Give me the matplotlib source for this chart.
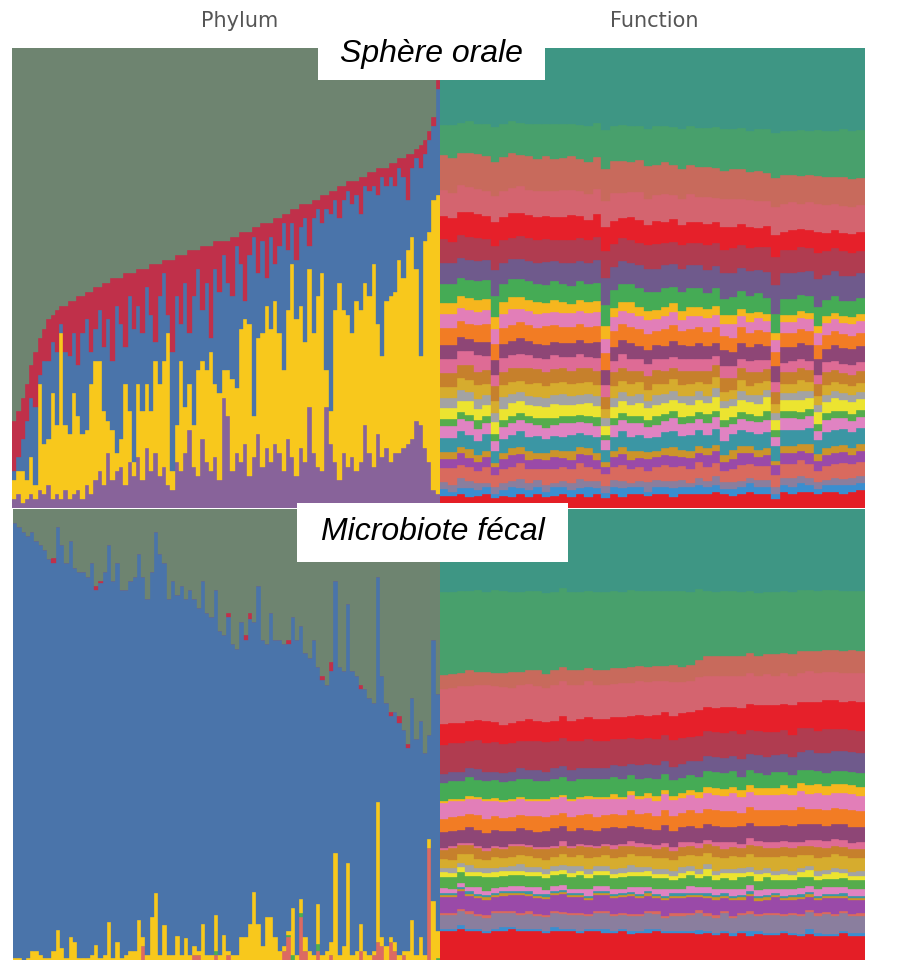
import numpy as np
import matplotlib
matplotlib.use("Agg")
import matplotlib.pyplot as plt
from matplotlib.patches import Rectangle

# ---------------- Phylum, oral samples (percent, 100 samples) ----------------
oral_purple = [2,3,1,2,3,2,4,3,5,2, 3,2,4,2,3,4,2,5,3,6, 8,5,12,6,8,9,5,10,7,11,
               6,13,8,12,7,9,5,4,10,8, 12,17,9,7,15,10,8,11,6,24, 20,8,12,10,14,7,11,16,9,13,
               10,14,12,8,15,11,7,13,10,22, 12,9,8,22,14,10,6,12,9,11, 8,10,18,12,9,16,11,13,10,12,
               12,13,14,15,19,18,13,10,4,3]
oral_yellow = [4,5,7,4,8,3,23,11,10,23, 15,36,14,14,22,16,14,12,24,26, 24,16,7,11,4,6,22,11,3,16,
               15,14,13,20,20,23,33,4,8,24, 10,10,9,23,17,20,26,16,19,6, 10,20,14,29,27,33,9,21,29,31,
               29,31,26,22,28,42,34,31,26,30, 26,37,43,8,7,33,43,31,33,27, 37,33,31,34,44,24,22,32,36,35,
               42,37,42,44,33,15,45,50,63,65]
oral_blue = [2,3,7,13,13,17,2,18,17,11, 16,2,16,17,13,11,22,24,7,7, 11,14,22,15,32,25,8,25,29,17,
             17,21,21,4,19,19,4,26,28,8, 27,11,28,22,11,19,3,25,22,25, 19,18,31,14,4,15,39,14,20,6,
             20,8,19,32,13,9,13,17,27,5, 25,19,11,35,43,24,14,24,27,28, 23,21,21,23,17,28,39,25,26,23,
             20,22,11,15,24,41,19,20,16,23]
oral_red = [11,10,9,8,7,12,8,7,9,6, 9,4,10,12,7,15,8,6,13,9, 5,14,8,18,6,10,16,5,12,8,
            14,4,11,17,7,3,12,20,9,15, 6,18,10,4,14,8,20,6,11,3, 9,13,2,7,15,5,2,10,4,12,
            3,10,6,2,8,3,11,5,3,9, 4,2,6,3,5,2,7,3,2,5, 3,8,2,4,3,6,2,4,3,5,
            2,4,10,3,2,5,3,2,2,2]
oral_gray = [81,79,76,73,69,66,63,61,59,58, 57,56,56,55,55,54,54,53,53,52, 52,51,51,50,50,50,49,49,49,48,
             48,48,47,47,47,46,46,46,45,45, 45,44,44,44,43,43,43,42,42,42, 42,41,41,40,40,40,39,39,38,38,
             38,37,37,36,36,35,35,34,34,34, 33,33,32,32,31,31,30,30,29,29, 29,28,28,27,27,26,26,26,25,25,
             24,24,23,23,22,21,20,18,15,7]

# ---------------- Phylum, fecal samples (percent, 100 samples) ----------------
fecal_salmon = [0,0,0,0,0,0,0,0,0,0, 0,0,0,0,0,0,0,0,0,0, 0,0,0,0,0,0,0,0,0,0,
                3,0,0,0,0,0,0,0,0,0, 0,0,1,1,0,0,0,1,0,0, 1,0,0,0,0,0,0,0,0,0,
                0,0,0,2,5,0,0,9.5,2,0, 0,2,0,0,1,0,0,0,0,0, 0,2,0,0,1,4,3,0,4,2,
                0,1,0,0,0,0,0,24.8,0,0]
fecal_green = [0,0,0,0,0,0,0,0,0,0, 0,0,0,0,0,0,0,0,0,0, 0,0,0,0,0,0,0,0,0,0,
               0,0,0,0,0,0,0,0,0,0, 0,0,0,0,0,0,0,1,0,0, 0,0,0,0,0,0,0,0,0,0,
               0,0,0,0,0.5,1,0,1,0,0, 0,1.5,0,0,0,0,0,0,0,0, 0,0,0,0,0,0,0,0,0,0,
               0,0,0,0,0,0,0,0,0,0.5]
fecal_yellow = [0.5,0.5,0,0.5,2,2,1,0.5,0.5,2, 6.6,2.6,0.5,5,4,0.5,0.5,0.5,1,3.3,
                0.5,1,8.4,0.5,4,0.5,1,2,2,8.8, 2,1,9.5,14.8,1,7.7,1,1,5.3,1,
                4.9,1,2,1,8,1,1,8,1,5.5, 1,1,1,5,5,8,15,8,3,9.5,
                9.5,5,2,1,1,10.6,1,3,3,2, 1,9,1,2,3,23.7,1,3,21.5,1,
                2,6,2,1,1,31,2,3,1,2, 1,1,2,8.8,1,5,1,2,13,6]
fecal_blue = [96.5,95.5,95,93.5,93,91,91,90.5,88.5,87, 89.4,89.4,87.5,88,83,85.5,85.5,84.5,87,78.7,
              83,85,83.6,83.5,84,81.5,81,82,83,81.2, 80,79,76.5,80.2,89,80.3,79,83,75.7,82,
              75.1,81,77,76,76,76,75,72,72,66.5, 74,69,68,70,66,67.5,60,75,68,60.5,
              67.5,66,69,67,63.5,64.4,70,60.5,63,65, 70,52.5,61,59,60,60.3,64,61,57.5,63,
              61,52,58,57,55,50,58,54,49,51, 51.5,49,45,49.2,48,48,45,23.2,58,52.5]
fecal_red = [0,0,0,0,0,0,0,0,0,1, 0,0,0,0,0,0,0,0,0,1, 0.5,0,0,0,0,0,0,0,0,0,
             0,0,0,0,0,0,0,0,0,0, 0,0,0,0,0,0,0,0,0,0, 1,0,0,0,1,1.5,0,0,0,0,
             0,0,0,0,1,0,0,0,0,0, 0,0,1,0,2,0,0,0,0,0, 0,1,0,0,0,0,0,0,1,0,
             1.5,0,1,0,0,0,0,0,0,0]
fecal_gray = [3,4,5,6,5,7,8,9,11,11, 4,8,12,7,13,14,14,15,12,17, 16,14,8,16,12,18,18,16,15,10,
              15,20,14,5,10,12,20,16,19,17, 20,18,20,22,16,23,24,18,27,28, 23,30,31,25,28,23,25,17,29,30,
              23,29,29,30,29,24,29,26,32,33, 29,35,37,39,34,16,35,36,21,36, 37,39,40,42,43,15,37,43,45,45,
              46,49,52,42,51,47,54,50,29,41]

# ---------------- Function, oral samples (units of 0.5 %, 50 samples, bottom -> top) ----------------
oral_fn_01 = [5,5,6,5,5,6,4,5,5,6, 5,6,5,5,6,5,6,5,6,4, 6,5,6,6,5,6,6,5,6,6, 6,6,7,6,5,6,7,6,6,4, 7,6,7,7,6,7,7,6,7,8]
oral_fn_02 = [3,2,3,4,3,3,2,3,4,3, 3,3,2,4,3,3,3,4,3,2, 3,4,3,3,2,3,3,4,3,3, 4,3,3,2,3,3,4,3,3,2, 3,3,4,3,2,3,3,4,3,3]
oral_fn_03 = [3,3,4,3,3,2,3,3,3,4, 3,3,3,2,3,3,4,3,3,3, 3,3,2,3,4,3,3,3,3,2, 3,3,4,3,3,3,2,3,3,3, 3,4,3,3,3,2,3,3,3,3]
oral_fn_04 = [6,7,6,6,5,7,5,6,6,7, 6,5,7,6,6,6,7,6,5,5, 6,7,6,6,5,6,7,6,6,6, 7,6,6,5,6,7,6,6,6,5, 6,6,7,6,5,6,6,7,6,6]
oral_fn_05 = [4,4,5,4,4,4,3,4,5,4, 4,4,4,5,4,4,4,5,4,3, 4,5,4,4,5,4,4,5,4,5, 4,5,5,4,4,5,5,4,5,4, 5,5,4,5,4,5,5,5,4,5]
oral_fn_06 = [3,3,3,4,3,3,2,3,3,3, 4,3,3,3,3,4,3,3,3,2, 3,3,4,3,3,3,3,4,3,3, 3,3,3,3,4,3,3,3,3,2, 3,3,3,4,3,3,3,3,3,3]
oral_fn_07 = [6,6,7,6,6,7,5,6,6,7, 6,7,6,6,6,7,6,6,7,5, 6,7,6,7,6,6,7,7,6,7, 7,6,7,6,7,7,6,7,7,6, 7,7,6,7,6,7,7,7,7,7]
oral_fn_08 = [5,5,5,6,5,5,4,5,5,5, 6,5,5,5,6,5,5,5,5,4, 5,5,6,5,5,5,5,6,5,5, 5,5,5,6,4,5,5,5,5,4, 5,5,5,5,4,5,5,5,5,5]
oral_fn_09 = [3,3,3,3,4,3,3,3,3,3, 3,3,4,3,3,3,3,3,4,2, 3,3,3,3,3,4,3,3,3,3, 3,4,3,3,3,3,3,3,4,3, 3,3,3,3,3,3,3,3,3,3]
oral_fn_10 = [5,5,5,6,5,5,5,5,6,5, 5,5,5,6,5,5,5,6,5,4, 5,5,5,6,5,5,5,5,6,5, 5,5,6,5,5,5,5,5,6,4, 5,5,5,5,5,5,6,5,5,5]
oral_fn_11 = [4,4,5,4,4,4,4,5,4,4, 4,4,4,4,5,4,4,4,4,3, 4,4,4,4,3,4,4,4,3,4, 4,3,4,3,3,4,3,4,3,3, 3,3,4,3,3,3,3,3,3,3]
oral_fn_12 = [5,5,5,5,6,5,5,5,5,5, 5,6,5,5,5,5,5,5,5,4, 5,5,5,5,5,5,4,5,5,5, 4,5,5,4,4,5,4,5,4,4, 4,4,5,4,4,4,4,4,4,4]
oral_fn_13 = [6,6,6,7,6,6,6,6,6,6, 7,6,6,6,6,6,7,6,6,5, 6,6,6,5,6,6,6,5,6,6, 5,6,5,6,5,5,6,5,5,5, 5,5,5,5,5,6,5,5,5,5]
oral_fn_14 = [6,6,6,6,7,6,5,6,6,6, 6,5,6,6,5,6,6,5,6,5, 5,6,5,5,5,5,5,5,5,5, 5,5,4,5,5,4,5,5,4,4, 4,5,4,4,4,4,4,4,4,4]
oral_fn_15 = [6,6,6,5,6,6,6,6,6,7, 6,6,6,6,6,6,6,6,7,6, 6,6,7,6,6,6,6,7,6,6, 7,6,6,7,6,7,6,7,6,7, 7,6,7,7,7,6,7,7,7,7]
oral_fn_16 = [7,7,7,7,7,8,7,7,7,7, 7,7,8,7,7,7,7,7,7,7, 7,7,7,7,7,6,7,7,6,7, 7,6,7,6,6,7,6,6,6,6, 6,6,6,6,6,6,6,6,6,6]
oral_fn_17 = [6,6,6,6,6,6,6,6,7,6, 6,6,6,6,6,6,6,6,6,6, 6,6,6,6,6,5,6,6,5,6, 5,6,5,5,6,5,5,5,5,5, 5,5,5,5,5,5,5,5,5,5]
oral_fn_18 = [5,5,5,5,5,5,5,5,5,5, 5,5,4,5,5,4,5,5,5,5, 4,4,5,4,4,4,4,4,4,4, 4,4,4,4,4,3,4,3,3,3, 3,3,3,3,3,3,3,3,3,3]
oral_fn_19 = [8,8,8,8,8,8,9,8,8,8, 8,8,8,8,8,8,8,8,8,9, 8,8,8,8,8,8,8,7,8,8, 8,7,8,7,8,8,7,8,7,8, 7,7,7,7,8,7,7,7,7,7]
oral_fn_20 = [9,9,9,9,9,9,11,9,9,9, 9,9,10,9,9,10,9,9,10,11, 10,10,9,10,10,10,10,10,10,10, 10,10,10,11,10,10,11,10,11,12, 11,11,10,11,12,11,11,11,11,11]
oral_fn_21 = [10,9,10,10,10,9,10,10,9,10, 10,10,10,9,10,10,10,10,10,11, 10,10,10,10,10,11,10,10,10,10, 10,11,10,10,11,10,10,10,11,12, 10,10,11,10,11,10,10,11,10,10]
oral_fn_22 = [10,10,10,11,10,10,10,10,11,10, 10,10,10,10,10,11,10,9,10,10, 10,9,10,10,9,10,9,10,9,9, 9,9,9,10,9,9,9,8,9,9, 8,9,8,8,9,8,8,8,8,8]
oral_fn_23 = [11,11,12,11,11,11,11,11,11,12, 11,11,11,11,12,11,11,11,11,11, 12,11,11,12,11,11,12,11,11,12, 11,12,11,12,12,11,12,12,11,12, 12,12,11,12,12,12,11,12,12,12]
oral_fn_24 = [15,15,14,15,15,15,14,15,15,14, 15,14,15,14,14,15,14,14,14,13, 14,14,13,14,14,13,14,13,13,13, 13,13,13,12,13,13,12,13,12,12, 13,12,12,12,12,12,12,13,12,12]
oral_fn_25 = [13,14,13,14,13,14,15,14,14,14, 14,15,14,15,15,14,15,16,15,16, 15,16,16,15,16,17,16,17,17,17, 17,17,18,18,17,18,18,18,19,19, 19,19,20,19,20,20,20,21,21,21]
oral_fn_26 = [33,33,33,32,33,33,33,33,32,33, 33,33,33,33,33,33,34,34,33,34, 34,34,34,34,35,34,34,35,35,34, 35,35,35,35,35,35,36,35,35,36, 36,36,36,36,35,36,36,36,36,36]

# ---------------- Function, fecal samples (units of 0.5 %, 50 samples, bottom -> top) ----------------
fecal_fn_01 = [13,13,14,13,13,12,13,13,14,13, 13,13,12,13,13,13,12,13,13,12, 12,13,12,12,12,13,12,12,12,12, 12,12,11,12,11,12,11,12,11,11, 12,11,11,12,11,11,11,12,11,11]
fecal_fn_02 = [1,1,2,1,1,1,1,2,1,1, 1,1,1,2,1,1,1,1,1,2, 1,1,1,1,2,1,1,1,1,1, 2,1,1,1,1,1,2,1,1,1, 1,1,1,2,1,1,1,1,1,1]
fecal_fn_03 = [6,6,6,7,6,6,7,6,6,6, 7,6,6,6,7,6,7,6,7,7, 7,6,7,7,7,7,6,7,7,7, 8,7,7,8,7,7,8,7,8,8, 7,8,8,8,8,9,8,8,8,8]
fecal_fn_04 = [1,1,1,1,1,1,1,1,1,1, 1,1,1,1,1,1,1,1,1,1, 1,1,1,1,1,1,1,1,1,1, 1,1,1,1,1,1,1,1,1,1, 1,1,1,1,1,1,1,1,1,1]
fecal_fn_05 = [7,7,8,7,7,7,6,7,7,8, 7,7,7,7,8,7,7,6,7,7, 7,7,8,7,7,6,7,7,7,7, 6,7,7,6,7,6,7,6,6,7, 6,6,7,6,6,6,7,6,6,6]
fecal_fn_06 = [1,1,1,1,1,1,1,1,1,1, 1,1,1,1,1,1,1,1,1,1, 1,1,1,1,1,1,1,1,1,1, 1,1,1,1,1,1,1,1,1,1, 1,1,1,1,1,1,1,1,1,1]
fecal_fn_07 = [1,1,1,1,1,1,1,1,1,1, 1,1,1,1,1,1,1,1,1,1, 1,1,1,1,1,1,1,1,1,1, 1,1,1,1,1,1,1,1,1,1, 1,1,1,1,1,1,1,1,1,1]
fecal_fn_08 = [2,2,2,2,3,2,2,2,2,2, 2,3,2,2,2,2,2,3,2,2, 2,2,2,3,2,2,3,2,2,3, 3,3,3,2,3,3,3,3,3,2, 3,3,3,3,3,3,3,3,3,3]
fecal_fn_09 = [5,5,5,5,5,6,5,5,5,5, 5,5,5,5,5,5,6,5,5,5, 5,5,5,5,5,5,5,4,5,5, 4,5,4,5,4,5,4,4,5,4, 4,4,5,4,4,4,4,4,4,4]
fecal_fn_10 = [2,2,2,2,2,2,2,2,2,2, 2,2,2,2,2,2,2,2,2,2, 2,2,2,2,2,2,2,2,2,2, 2,3,2,2,3,2,2,3,2,2, 3,2,2,3,2,2,3,2,2,2]
fecal_fn_11 = [2,2,2,3,2,2,2,2,2,3, 2,2,2,2,2,3,2,2,2,2, 2,2,3,2,2,2,2,2,3,2, 2,2,2,2,2,2,2,2,2,2, 2,2,2,2,2,2,2,2,2,2]
fecal_fn_12 = [4,4,4,5,4,4,5,4,4,4, 5,4,4,4,5,4,5,5,4,5, 5,5,5,5,5,5,5,5,5,5, 6,5,6,5,6,5,6,6,5,6, 6,6,6,5,6,6,6,6,6,6]
fecal_fn_13 = [4,5,4,4,5,4,4,4,5,4, 4,4,5,4,4,4,4,5,4,4, 4,5,4,4,4,4,5,4,4,4, 4,4,5,4,4,4,4,5,4,4, 4,4,4,4,5,4,4,4,4,4]
fecal_fn_14 = [1,1,1,1,1,1,1,1,1,1, 1,1,1,1,2,1,1,1,1,1, 2,1,2,2,1,2,2,2,2,2, 2,2,2,3,2,2,3,2,3,3, 3,3,2,3,3,3,3,3,3,3]
fecal_fn_15 = [7,7,6,7,7,7,7,7,6,7, 7,7,7,8,7,7,7,7,7,7, 8,7,7,7,7,7,8,7,7,7, 7,7,7,7,7,8,7,7,7,7, 7,7,8,7,7,7,7,7,7,7]
fecal_fn_16 = [6,6,6,6,7,6,6,6,6,6, 6,7,6,6,6,6,6,7,6,6, 6,6,7,6,7,6,7,7,6,7, 7,7,7,7,7,6,7,7,7,7, 7,7,8,7,7,7,7,7,8,7]
fecal_fn_17 = [7,7,7,7,7,8,7,7,7,7, 7,7,7,7,7,7,7,7,8,7, 7,7,7,7,7,7,7,7,7,7, 7,7,7,7,8,7,7,7,7,7, 7,7,7,7,7,7,7,7,7,7]
fecal_fn_18 = [1,1,1,1,1,1,1,1,1,1, 1,1,1,1,1,1,1,1,1,1, 2,1,2,1,2,2,2,2,2,2, 3,3,3,3,3,3,3,3,3,3, 4,3,4,4,4,4,4,4,4,4]
fecal_fn_19 = [8,8,8,9,8,8,8,8,8,8, 9,8,8,8,8,8,8,8,8,8, 8,8,7,8,7,8,7,7,7,7, 7,7,7,7,7,6,7,7,6,7, 6,6,6,7,6,6,6,6,6,6]
fecal_fn_20 = [4,4,4,4,5,4,4,4,4,5, 4,5,4,5,5,5,5,5,5,5, 5,6,5,6,6,6,6,6,6,6, 7,7,7,7,7,8,7,8,8,8, 8,8,8,9,8,9,9,9,9,9]
fecal_fn_21 = [13,13,13,12,13,13,13,13,13,12, 13,13,13,12,13,13,12,13,12,12, 12,12,12,12,12,12,12,12,12,11, 12,11,11,11,11,11,11,11,11,10, 11,10,11,10,10,11,10,10,10,10]
fecal_fn_22 = [9,9,9,9,9,10,9,9,9,9, 10,9,9,9,10,9,10,10,10,10, 10,10,10,11,10,11,10,11,11,11, 12,11,11,12,11,12,12,12,12,12, 12,13,12,12,13,13,13,12,13,13]
fecal_fn_23 = [16,16,17,16,16,16,16,17,16,16, 16,16,15,16,16,16,15,16,15,15, 15,15,15,15,15,15,14,15,14,14, 15,14,14,14,14,14,14,13,14,13, 14,13,13,14,13,13,13,13,13,13]
fecal_fn_24 = [6,6,6,7,6,6,6,6,7,6, 6,7,6,7,6,7,7,6,7,7, 7,7,7,7,7,7,7,8,7,7, 8,9,9,9,9,9,9,9,9,10, 9,10,10,9,10,10,10,10,10,10]
fecal_fn_25 = [37,37,37,36,37,36,37,37,36,36, 36,36,36,35,36,35,35,35,35,35, 35,34,35,34,34,34,34,33,34,33, 33,29,29,29,29,29,28,29,28,28, 28,28,28,28,27,27,27,27,27,27]
fecal_fn_26 = [37,37,37,37,37,37,36,37,37,37, 37,37,37,37,36,37,37,37,37,37, 37,37,37,37,37,37,37,37,37,37, 37,37,37,37,37,37,37,38,37,37, 37,37,37,37,37,37,37,37,37,37]

# ---------------- colours ----------------
C_PURPLE, C_SALMON, C_GREEN = "#88639a", "#dc6a62", "#4caf50"
C_YELLOW, C_BLUE, C_RED, C_GRAY = "#f8c81c", "#4a74aa", "#c0304a", "#6e8470"
fn_colors = ["#e41e26", "#3a8ed0", "#8a7e9e", "#d96a5e", "#9a4aa8", "#cc942a", "#3b96a4",
             "#e083c2", "#55ac4c", "#ece430", "#a3a3a3", "#d6ac2e", "#c6802c", "#de6b95",
             "#8e4676", "#f27c24", "#e27eb8", "#f6b61e", "#45ab55", "#6f5a8c", "#b03c50",
             "#e6202a", "#d4646f", "#c86a5c", "#48a06c", "#3e9684"]

oral_fn = [oral_fn_01, oral_fn_02, oral_fn_03, oral_fn_04, oral_fn_05, oral_fn_06, oral_fn_07,
           oral_fn_08, oral_fn_09, oral_fn_10, oral_fn_11, oral_fn_12, oral_fn_13, oral_fn_14,
           oral_fn_15, oral_fn_16, oral_fn_17, oral_fn_18, oral_fn_19, oral_fn_20, oral_fn_21,
           oral_fn_22, oral_fn_23, oral_fn_24, oral_fn_25, oral_fn_26]
fecal_fn = [fecal_fn_01, fecal_fn_02, fecal_fn_03, fecal_fn_04, fecal_fn_05, fecal_fn_06, fecal_fn_07,
            fecal_fn_08, fecal_fn_09, fecal_fn_10, fecal_fn_11, fecal_fn_12, fecal_fn_13, fecal_fn_14,
            fecal_fn_15, fecal_fn_16, fecal_fn_17, fecal_fn_18, fecal_fn_19, fecal_fn_20, fecal_fn_21,
            fecal_fn_22, fecal_fn_23, fecal_fn_24, fecal_fn_25, fecal_fn_26]


def stacked(ax, layers, colors):
    data = np.array(layers, dtype=float)
    data = data / data.sum(axis=0) * 100.0
    n = data.shape[1]
    x = np.arange(n)
    bottom = np.zeros(n)
    for row, c in zip(data, colors):
        ax.bar(x, row, bottom=bottom, width=1.0, color=c, edgecolor=c, linewidth=0.25)
        bottom += row
    ax.set_xlim(-0.5, n - 0.5)
    ax.set_ylim(0, 100)
    ax.axis("off")


W, H = 904, 961
fig = plt.figure(figsize=(W / 100, H / 100), dpi=100)


def px_axes(x0, y0, x1, y1):
    return fig.add_axes([x0 / W, 1 - y1 / H, (x1 - x0) / W, (y1 - y0) / H])


ax_tl = px_axes(12, 48, 440, 508)
ax_tr = px_axes(440, 48, 865, 508)
ax_bl = px_axes(13, 509, 440, 960)
ax_br = px_axes(440, 509, 865, 960)

stacked(ax_tl, [oral_purple, oral_yellow, oral_blue, oral_red, oral_gray],
        [C_PURPLE, C_YELLOW, C_BLUE, C_RED, C_GRAY])
stacked(ax_bl, [fecal_salmon, fecal_green, fecal_yellow, fecal_blue, fecal_red, fecal_gray],
        [C_SALMON, C_GREEN, C_YELLOW, C_BLUE, C_RED, C_GRAY])
stacked(ax_tr, oral_fn, fn_colors)
stacked(ax_br, fecal_fn, fn_colors)

# column titles
fig.text(240 / W, 1 - 21 / H, "Phylum", ha="center", va="center", fontsize=15,
         color="#555555", family="DejaVu Sans")
fig.text(654 / W, 1 - 21 / H, "Function", ha="center", va="center", fontsize=15,
         color="#555555", family="DejaVu Sans")

# white label boxes
def label_box(x0, y0, x1, y1, text):
    fig.add_artist(Rectangle((x0 / W, 1 - y1 / H), (x1 - x0) / W, (y1 - y0) / H,
                             transform=fig.transFigure, facecolor="white",
                             edgecolor="none", zorder=10))
    fig.text((x0 + x1) / 2 / W, 1 - ((y0 + y1) / 2 - 1) / H, text, ha="center", va="center",
             fontsize=23, style="italic", color="black", family="Liberation Sans", zorder=11)


label_box(318, 30, 545, 80, "Sphère orale")
label_box(297, 503, 568, 562, "Microbiote fécal")

fig.savefig("out.png", dpi=100, facecolor="white")
